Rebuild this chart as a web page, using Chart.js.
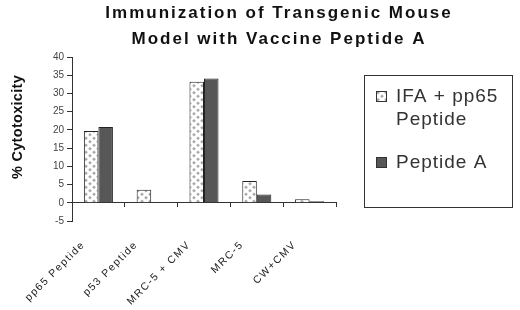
<!DOCTYPE html>
<html><head><meta charset="utf-8">
<script src="https://cdn.jsdelivr.net/npm/chart.js@4/dist/chart.umd.min.js"></script>
<style>html,body{margin:0;padding:0;background:#fff;overflow:hidden}#wrap{width:520px;height:310px;position:relative}</style>
</head><body><div id="wrap"><canvas id="c" width="520" height="310"></canvas></div>
<script>
const titleLines = ['Immunization of Transgenic Mouse', 'Model with Vaccine Peptide A'];
const yAxisTitle = '% Cytotoxicity';
const categories = ['pp65 Peptide', 'p53 Peptide', 'MRC-5 + CMV', 'MRC-5', 'CW+CMV'];
const seriesNames = ['IFA + pp65 Peptide', 'Peptide A'];
const ifaValues = [19.7, 3.6, 33.2, 6.0, 1.0];
const peptideAValues = [20.8, 0, 34.1, 2.3, 0.4];
const yMin = -5, yMax = 40, yStep = 5;

const ctx = document.getElementById('c').getContext('2d');

function makeDotPattern() {
  const t = document.createElement('canvas');
  t.width = 8; t.height = 7;
  const g = t.getContext('2d');
  g.fillStyle = '#ffffff'; g.fillRect(0, 0, 8, 7);
  g.fillStyle = '#a8a8a8';
  const dia = (x, y, r) => { g.beginPath(); g.moveTo(x, y - r); g.lineTo(x + r, y); g.lineTo(x, y + r); g.lineTo(x - r, y); g.closePath(); g.fill(); };
  dia(2, 1.75, 1.8); dia(6, 5.25, 1.8); dia(6, -1.75, 1.8); dia(2, 8.75, 1.8);
  return ctx.createPattern(t, 'repeat');
}
const dotPattern = makeDotPattern();

const overlay = {
  id: 'overlay',
  afterDraw(chart) {
    const c = chart.ctx, xs = chart.scales.x, area = chart.chartArea;
    c.save();
    // title
    c.fillStyle = '#111'; c.font = 'bold 17px Arial, "Liberation Sans", sans-serif';
    c.textAlign = 'center'; c.textBaseline = 'middle'; c.letterSpacing = '2px';
    titleLines.forEach((t, i) => c.fillText(t, 279, 13.5 + i * 26));
    // y axis title
    c.letterSpacing = '0.3px';
    c.save(); c.translate(18, 127); c.rotate(-Math.PI / 2);
    c.font = 'bold 14.5px Arial, "Liberation Sans", sans-serif'; c.fillStyle = '#111';
    c.fillText(yAxisTitle, 0, 0); c.restore();
    // category labels, rotated
    c.font = '10.5px Arial, "Liberation Sans", sans-serif'; c.fillStyle = '#222';
    c.letterSpacing = '1.5px'; c.textAlign = 'right'; c.textBaseline = 'middle';
    categories.forEach((lab, i) => {
      const px = xs.getPixelForTick(i);
      c.save(); c.translate(px - 15, area.bottom + 22); c.rotate(-Math.PI / 4);
      c.fillText(lab, 0, 0); c.restore();
    });
    // legend
    c.letterSpacing = '0px';
    c.strokeStyle = '#333'; c.lineWidth = 1;
    c.strokeRect(364.5, 75.5, 148, 132);
    c.font = '19px Arial, "Liberation Sans", sans-serif'; c.fillStyle = '#333';
    c.textAlign = 'left'; c.textBaseline = 'middle'; c.letterSpacing = '1px';
    const wrap = (text, maxW) => {
      const words = text.split(' '); const lines = []; let cur = '';
      words.forEach(w => { const trial = cur ? cur + ' ' + w : w;
        if (cur && c.measureText(trial).width > maxW) { lines.push(cur); cur = w; } else cur = trial; });
      if (cur) lines.push(cur); return lines;
    };
    let y = 97;
    chart.data.datasets.forEach((ds) => {
      const lines = wrap(ds.label, 110);
      c.save();
      c.fillStyle = ds.backgroundColor; c.fillRect(376.5, y - 5.5, 10, 10);
      c.strokeStyle = '#333'; c.strokeRect(376.5, y - 5.5, 10, 10);
      c.restore();
      lines.forEach((ln, k) => c.fillText(ln, 396, y + k * 23));
      y += lines.length * 23 + 20;
    });
    c.restore();
  }
};

new Chart(ctx, {
  type: 'bar',
  data: {
    labels: categories,
    datasets: [
      { label: seriesNames[0], data: ifaValues, backgroundColor: dotPattern, borderColor: '#222', borderWidth: 1, borderSkipped: 'start' },
      { label: seriesNames[1], data: peptideAValues, backgroundColor: '#575757', borderColor: '#222', borderWidth: 1, borderSkipped: 'start' }
    ]
  },
  options: {
    responsive: false, animation: false, devicePixelRatio: 1,
    layout: { padding: { top: 57, bottom: 89, left: 0, right: 184 } },
    datasets: { bar: { categoryPercentage: 0.55, barPercentage: 1 } },
    plugins: { legend: { display: false }, title: { display: false }, tooltip: { enabled: false } },
    scales: {
      x: {
        type: 'category', position: { y: 0 }, offset: true,
        grid: { display: true, drawOnChartArea: false, drawTicks: true, tickLength: 4, color: '#333', offset: true },
        border: { display: true, color: '#333', width: 1 },
        ticks: { display: false }
      },
      y: {
        min: yMin, max: yMax,
        afterFit(s) { s.width = 72; },
        ticks: { stepSize: yStep, color: '#444', padding: 3, font: { family: 'Arial, "Liberation Sans", sans-serif', size: 10 } },
        grid: { display: true, drawOnChartArea: false, drawTicks: true, tickLength: 5, color: '#333' },
        border: { display: true, color: '#333', width: 1 }
      }
    }
  },
  plugins: [overlay]
});
</script></body></html>
